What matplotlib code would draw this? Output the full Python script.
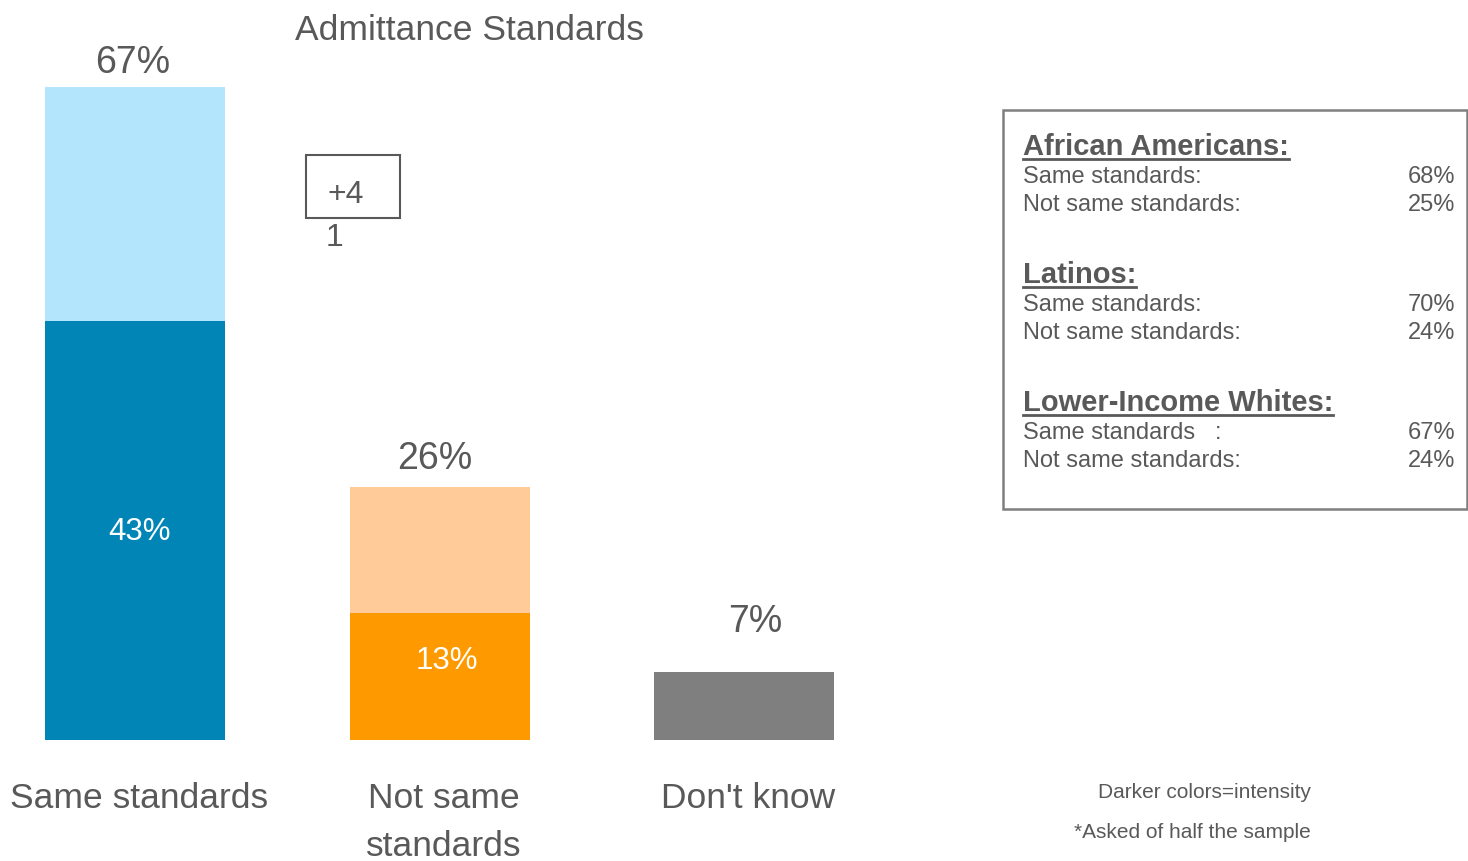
import matplotlib
matplotlib.use("Agg")
import matplotlib.pyplot as plt
from matplotlib.patches import Rectangle
from matplotlib.lines import Line2D

# ---------------- data ----------------
categories = ["Same standards", "Not same\nstandards", "Don't know"]
totals = [67, 26, 7]
intense = [43, 13, 7]
inner_labels = ["43%", "13%", ""]
title = "Admittance Standards"

groups = ["African Americans:", "Latinos:", "Lower-Income Whites:"]
row_labels = [["Same standards:", "Not same standards:"],
              ["Same standards:", "Not same standards:"],
              ["Same standards   :", "Not same standards:"]]
row_values = [["68%", "25%"], ["70%", "24%"], ["67%", "24%"]]

box_top = "+4"
box_bottom = "1"
footnotes = ["Darker colors=intensity", "*Asked of half the sample"]

# ---------------- style ----------------
W, H = 1468, 861
DPI = 100
TXT = "#595959"
dark_colors = ["#0085B6", "#FF9900", "#7F7F7F"]
light_colors = ["#B3E6FD", "#FFCC99", "#7F7F7F"]
label_pad_px = [24, 28, 50]      # gap of total label above bar top (px)
label_dx_px = [-2, -5, 11]       # horizontal nudge of total label (px)
inner_dx_px = [4, 7, 0]
inner_dy_px = [-2, 16, 0]        # upward nudge of inner label (px)

plt.rcParams["font.family"] = ["Liberation Sans", "DejaVu Sans"]

fig = plt.figure(figsize=(W / DPI, H / DPI), dpi=DPI)
fig.patch.set_facecolor("white")


def fx(px):
    return px / W


def fy(py):
    return 1 - py / H


# axes: bottom at pixel 740, top at pixel 0; full width
base_px = 740
px_per_unit = 653 / 67.0
spacing = 304.5
x0 = 135
ax = fig.add_axes([0, fy(base_px), 1, base_px / H])
ax.set_xlim(-x0 / spacing, (W - x0) / spacing)
ax.set_ylim(0, base_px / px_per_unit)
ax.axis("off")

xs = list(range(len(categories)))
width = 180 / spacing
light = [t - d for t, d in zip(totals, intense)]
ax.bar(xs, intense, width=width, color=dark_colors, linewidth=0)
ax.bar(xs, light, bottom=intense, width=width, color=light_colors, linewidth=0)

for i, x in enumerate(xs):
    pad = label_pad_px[i] / px_per_unit
    ax.text(x + label_dx_px[i] / spacing, totals[i] + pad, f"{totals[i]}%",
            ha="center", va="center", fontsize=27, color=TXT)
    if inner_labels[i]:
        ax.text(x + inner_dx_px[i] / spacing, intense[i] / 2 + inner_dy_px[i] / px_per_unit,
                inner_labels[i], ha="center", va="center", fontsize=22.5, color="white")
    for j, line in enumerate(categories[i].split("\n")):
        ax.text(x + 4 / spacing, -(798 - base_px + 48 * j) / px_per_unit, line,
                ha="center", va="center", fontsize=25.5, color=TXT, clip_on=False)

# title
fig.text(fx(469), fy(30), title, ha="center", va="center", fontsize=25.5, color=TXT)

# small box
fig.patches.append(Rectangle((fx(306), fy(218)), fx(400) - fx(306), fy(155) - fy(218),
                             transform=fig.transFigure, fill=False,
                             edgecolor="#595959", linewidth=1.5))
fig.text(fx(346), fy(195), box_top, ha="center", va="center", fontsize=23, color=TXT)
fig.text(fx(335), fy(238), box_bottom, ha="center", va="center", fontsize=23, color=TXT)

# legend box
fig.patches.append(Rectangle((fx(1003), fy(509)), fx(1467) - fx(1003), fy(110) - fy(509),
                             transform=fig.transFigure, fill=False,
                             edgecolor="#7F7F7F", linewidth=1.8))
heads = []
for g, (grp, labs, vals) in enumerate(zip(groups, row_labels, row_values)):
    y0 = 147 + 128 * g
    t = fig.text(fx(1023), fy(y0), grp, ha="left", va="center", fontsize=21,
                 fontweight="bold", color=TXT)
    heads.append((t, y0))
    for r, (lab, val) in enumerate(zip(labs, vals)):
        yy = y0 + 30 + 28 * r
        fig.text(fx(1023), fy(yy), lab, ha="left", va="center", fontsize=17, color=TXT)
        fig.text(fx(1455), fy(yy), val, ha="right", va="center", fontsize=17, color=TXT)

fig.canvas.draw()
renderer = fig.canvas.get_renderer()
for t, y0 in heads:
    bb = t.get_window_extent(renderer)
    yline = fy(y0 + 12)
    fig.lines.append(Line2D([bb.x0 / W, bb.x1 / W], [yline, yline],
                            transform=fig.transFigure, color=TXT, linewidth=2))

# footnotes
fig.text(fx(1204), fy(792), footnotes[0], ha="center", va="center", fontsize=15, color=TXT)
fig.text(fx(1192), fy(833), footnotes[1], ha="center", va="center", fontsize=15, color=TXT)

fig.savefig("out.png", dpi=DPI, facecolor="white")
